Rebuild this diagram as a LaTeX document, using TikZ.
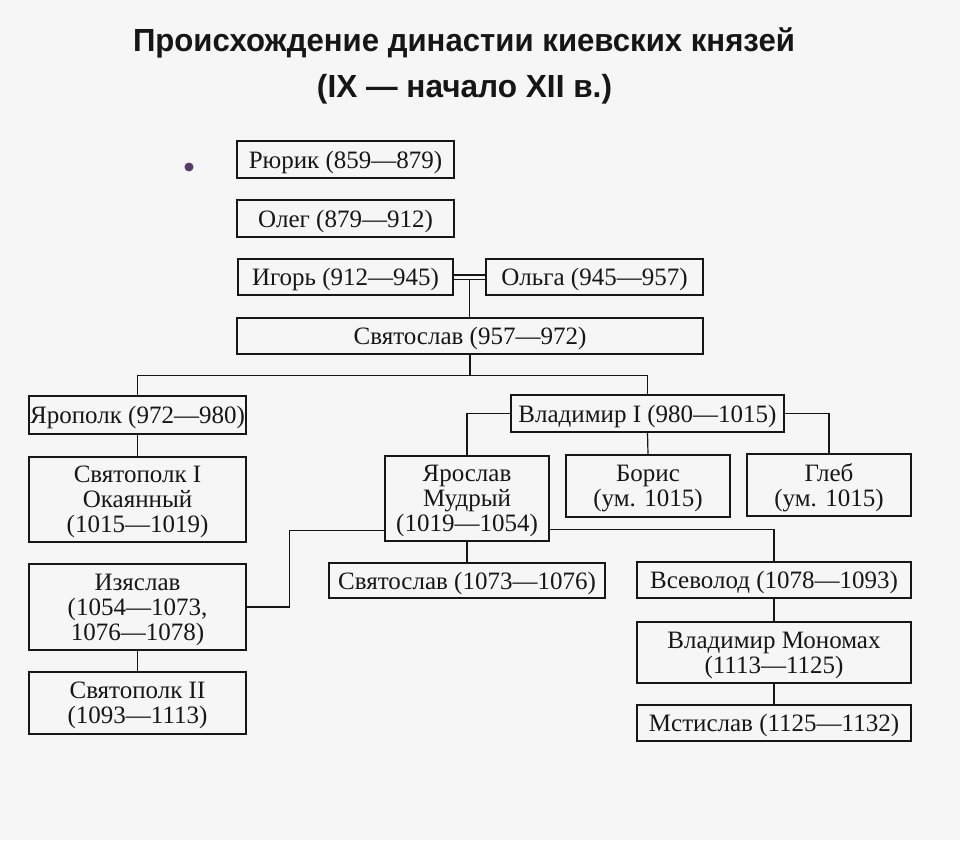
\documentclass[tikz,border=0pt]{standalone}
\usepackage{fontspec}
\setmainfont{Liberation Serif}
\newfontfamily\titlefont{Liberation Sans}
\usepackage{graphicx}
\usetikzlibrary{calc}
\definecolor{ink}{RGB}{22,22,22}
\definecolor{bgc}{RGB}{246,246,246}
\definecolor{dotc}{RGB}{85,60,105}
\begin{document}
\begin{tikzpicture}[x=1pt,y=-1pt,
  box/.style={draw=ink, line width=1.4pt, inner sep=0pt},
  txt/.style={inner sep=0pt, align=center, yshift=-2.8pt,
    font=\fontsize{25}{25}\selectfont, text=ink},
  link/.style={draw=ink, line width=1.2pt},
  ttl/.style={anchor=base, inner sep=0pt, text=ink,
    font=\titlefont\bfseries\fontsize{32}{32}\selectfont}
]
\path[fill=bgc] (0,0) rectangle (960,840);

% title
\node[ttl] (t1) at (464,52) {\resizebox{662pt}{\height}{Происхождение династии киевских князей}};
\node[ttl] (t2) at (464.5,98) {\resizebox{295pt}{\height}{(IX — начало XII в.)}};

% dot
\fill[dotc] (189,167) circle (4.5);

% boxes
\node[box, minimum width=217pt, minimum height=37pt, label={[txt]center:Рюрик (859—879)}] (rurik) at (345.5,159.5) {};
\node[box, minimum width=217pt, minimum height=37pt, label={[txt]center:Олег (879—912)}] (oleg) at (345.5,218.5) {};
\node[box, minimum width=215pt, minimum height=36pt, label={[txt]center:Игорь (912—945)}] (igor) at (345.5,277) {};
\node[box, minimum width=217pt, minimum height=36pt, label={[txt]center:Ольга (945—957)}] (olga) at (594.5,277) {};
\node[box, minimum width=466pt, minimum height=36pt, label={[txt]center:Святослав (957—972)}] (svyat) at (470,336) {};
\node[box, minimum width=217pt, minimum height=38pt, label={[txt]center:Ярополк (972—980)}] (yaropolk) at (137.5,415) {};
\node[box, minimum width=273pt, minimum height=37pt, label={[txt]center:Владимир I (980—1015)}] (vladimir) at (647.5,413.5) {};
\node[box, minimum width=217pt, minimum height=85pt, label={[txt]center:Святополк I\\Окаянный\\(1015—1019)}] (svpI) at (137.5,499.5) {};
\node[box, minimum width=164pt, minimum height=85pt, label={[txt]center:Ярослав\\Мудрый\\(1019—1054)}] (yaroslav) at (467,498.5) {};
\node[box, minimum width=164pt, minimum height=62pt, label={[txt]center:Борис\\(ум. 1015)}] (boris) at (648,486) {};
\node[box, minimum width=164pt, minimum height=62pt, label={[txt]center:Глеб\\(ум. 1015)}] (gleb) at (829,485) {};
\node[box, minimum width=217pt, minimum height=86pt, label={[txt]center:Изяслав\\(1054—1073,\\1076—1078)}] (izyaslav) at (137.5,607) {};
\node[box, minimum width=276pt, minimum height=35pt, label={[txt]center:Святослав (1073—1076)}] (svyat2) at (467,580.5) {};
\node[box, minimum width=274pt, minimum height=36pt, label={[txt]center:Всеволод (1078—1093)}] (vsevolod) at (774,580) {};
\node[box, minimum width=217pt, minimum height=62pt, label={[txt]center:Святополк II\\(1093—1113)}] (svpII) at (137.5,703) {};
\node[box, minimum width=274pt, minimum height=61pt, label={[txt]center:Владимир Мономах\\(1113—1125)}] (monomakh) at (774,652.5) {};
\node[box, minimum width=274pt, minimum height=36pt, label={[txt]center:Мстислав (1125—1132)}] (mstislav) at (774,723) {};

% connectors
\draw[draw=ink, line width=1.1pt, double=bgc, double distance=3pt] (igor.east) -- (olga.west);
\coordinate (marr) at ($(igor.east)!0.5!(olga.west)$);
\draw[link] ([yshift=-2.5pt]marr) -- (marr |- svyat.north);
\coordinate (bus1) at ($(svyat.south)+(0,21)$);
\draw[link] (svyat.south) -- (bus1);
\draw[link] (yaropolk.north) |- (bus1) -| (vladimir.north);
\draw[link] (yaropolk.south) -- (svpI.north);
\draw[link] (vladimir.west) -| (yaroslav.north);
\draw[link] (vladimir.south) -- (boris.north);
\draw[link] (vladimir.east) -| (gleb.north);
\draw[link] ([yshift=11pt]yaroslav.south west) -- ++(-95,0) |- (izyaslav.east);
\draw[link] ([yshift=12pt]yaroslav.south east) -| (vsevolod.north);
\draw[link] (yaroslav.south) -- (svyat2.north);
\draw[link] (izyaslav.south) -- (svpII.north);
\draw[link] (vsevolod.south) -- (monomakh.north);
\draw[link] (monomakh.south) -- (mstislav.north);
\end{tikzpicture}
\end{document}
